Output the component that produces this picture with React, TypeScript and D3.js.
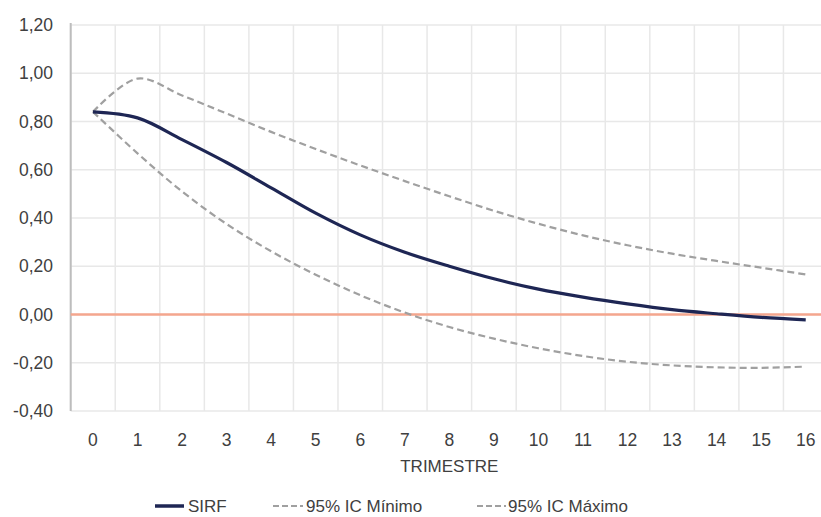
import React from 'react';
import * as d3 from 'd3';

const trimestres = ['0', '1', '2', '3', '4', '5', '6', '7', '8', '9', '10', '11', '12', '13', '14', '15', '16'];
const sirf = [0.84, 0.815, 0.725, 0.63, 0.525, 0.42, 0.33, 0.258, 0.2, 0.148, 0.105, 0.072, 0.044, 0.02, 0.003, -0.012, -0.022];
const icMinimo = [0.84, 0.668, 0.51, 0.375, 0.262, 0.165, 0.08, 0.008, -0.052, -0.1, -0.14, -0.172, -0.196, -0.211, -0.219, -0.221, -0.216];
const icMaximo = [0.84, 0.978, 0.908, 0.833, 0.757, 0.686, 0.618, 0.553, 0.49, 0.43, 0.376, 0.328, 0.287, 0.252, 0.222, 0.194, 0.166];
const yTicks = [1.2, 1.0, 0.8, 0.6, 0.4, 0.2, 0, -0.2, -0.4];

const W = 821;
const H = 517;
const FONT = '"Liberation Sans", Arial, sans-serif';

export default function App() {
  const x = d3.scaleBand<string>().domain(trimestres).range([70.7, 828]).padding(0);
  const y = d3.scaleLinear().domain([-0.4, 1.2]).range([411, 25]);
  const bw = x.bandwidth();
  const cx = (i: number) => (x(trimestres[i]) as number) + bw / 2;

  const line = d3
    .line<number>()
    .x((_, i) => cx(i))
    .y((d) => y(d))
    .curve(d3.curveCatmullRom.alpha(0.5));

  const fmt = (v: number) => v.toFixed(2).replace('.', ',');
  const bounds = trimestres.map((t) => x(t) as number).concat([(x(trimestres[trimestres.length - 1]) as number) + bw]);
  const [r0, r1] = x.range();

  return (
    <div style={{ position: 'absolute', left: 0, top: 0 }}>
      <svg width={W} height={H} style={{ display: 'block', background: '#fff' }} fontFamily={FONT}>
        {/* grid */}
        {yTicks.map((t) => (
          <line key={'h' + t} x1={r0} x2={r1} y1={y(t)} y2={y(t)} stroke="#e8e8e8" strokeWidth={1.5} />
        ))}
        {bounds.map((b, i) => (
          <line key={'v' + i} x1={b} x2={b} y1={y(1.2)} y2={y(-0.4)} stroke="#e8e8e8" strokeWidth={1.5} />
        ))}
        {/* y axis */}
        <line x1={r0} x2={r0} y1={y(1.2) - 2} y2={y(-0.4)} stroke="#bdbdbd" strokeWidth={2} />
        {yTicks.map((t) => (
          <text key={'yt' + t} x={53} y={y(t)} dy="0.35em" textAnchor="end" fontSize={17.5} fill="#404040">
            {fmt(t)}
          </text>
        ))}
        {/* zero line */}
        <line x1={r0} x2={r1} y1={y(0)} y2={y(0)} stroke="#f4a68e" strokeWidth={2.5} />
        {/* x labels */}
        {trimestres.map((t, i) => (
          <text key={'xt' + t} x={cx(i)} y={446} textAnchor="middle" fontSize={17.5} fill="#404040">
            {t}
          </text>
        ))}
        <text x={(r0 + r1) / 2} y={472} textAnchor="middle" fontSize={17} fill="#404040">
          TRIMESTRE
        </text>
        {/* series */}
        <path d={line(icMinimo) || ''} fill="none" stroke="#a0a0a0" strokeWidth={2.2} strokeDasharray="7,4" />
        <path d={line(icMaximo) || ''} fill="none" stroke="#a0a0a0" strokeWidth={2.2} strokeDasharray="7,4" />
        <path d={line(sirf) || ''} fill="none" stroke="#1e2654" strokeWidth={3.2} strokeLinejoin="round" />
        {/* legend */}
        <g>
          <line x1={155} x2={184} y1={506} y2={506} stroke="#1e2654" strokeWidth={3.5} />
          <text x={188} y={506} dy="0.35em" fontSize={17} fill="#404040">SIRF</text>
          <line x1={273} x2={303} y1={506} y2={506} stroke="#a0a0a0" strokeWidth={2} strokeDasharray="6,3" />
          <text x={306} y={506} dy="0.35em" fontSize={17} fill="#404040">95% IC Mínimo</text>
          <line x1={477} x2={506} y1={506} y2={506} stroke="#a0a0a0" strokeWidth={2} strokeDasharray="6,3" />
          <text x={508} y={506} dy="0.35em" fontSize={17} fill="#404040">95% IC Máximo</text>
        </g>
      </svg>
    </div>
  );
}
